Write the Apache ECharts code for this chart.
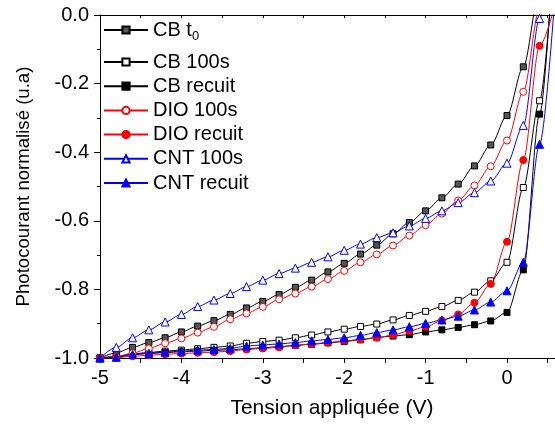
<!DOCTYPE html>
<html>
<head>
<meta charset="utf-8">
<script src="https://cdn.jsdelivr.net/npm/echarts@6/dist/echarts.min.js"></script>
<style>
html,body{margin:0;padding:0;background:#fff;}
#chart{width:555px;height:425px;}
</style>
</head>
<body>
<div id="chart"></div>
<script>
// Applied voltage (V)
const voltage = [-5.0,-4.8,-4.6,-4.4,-4.2,-4.0,-3.8,-3.6,-3.4,-3.2,-3.0,-2.8,-2.6,-2.4,-2.2,-2.0,-1.8,-1.6,-1.4,-1.2,-1.0,-0.8,-0.6,-0.4,-0.2,0.0,0.2,0.4,0.6];
// Normalised photocurrent
const cbT0   = [-1.000,-0.985,-0.969,-0.955,-0.941,-0.924,-0.907,-0.891,-0.873,-0.854,-0.835,-0.815,-0.794,-0.773,-0.749,-0.724,-0.697,-0.671,-0.638,-0.605,-0.571,-0.533,-0.493,-0.440,-0.379,-0.293,-0.151,0.07,0.30];
const cb100  = [-1.000,-0.995,-0.988,-0.984,-0.980,-0.977,-0.973,-0.969,-0.965,-0.957,-0.952,-0.948,-0.941,-0.933,-0.924,-0.916,-0.908,-0.901,-0.889,-0.876,-0.864,-0.850,-0.832,-0.808,-0.775,-0.721,-0.503,-0.25,0.25];
const cbRec  = [-1.000,-0.998,-0.990,-0.987,-0.984,-0.982,-0.980,-0.978,-0.976,-0.973,-0.970,-0.967,-0.963,-0.960,-0.956,-0.952,-0.947,-0.940,-0.936,-0.932,-0.924,-0.918,-0.911,-0.903,-0.892,-0.867,-0.743,-0.289,0.29];
const dio100 = [-1.000,-0.997,-0.986,-0.972,-0.957,-0.943,-0.926,-0.909,-0.887,-0.870,-0.851,-0.829,-0.812,-0.792,-0.770,-0.746,-0.721,-0.698,-0.672,-0.643,-0.613,-0.579,-0.541,-0.497,-0.441,-0.366,-0.224,0.02,0.28];
const dioRec = [-1.000,-0.999,-0.995,-0.992,-0.989,-0.987,-0.985,-0.983,-0.980,-0.975,-0.972,-0.969,-0.963,-0.959,-0.955,-0.950,-0.946,-0.941,-0.933,-0.921,-0.909,-0.891,-0.873,-0.839,-0.784,-0.661,-0.423,-0.090,0.04];
const cnt100 = [-1.000,-0.969,-0.941,-0.918,-0.895,-0.873,-0.850,-0.831,-0.812,-0.792,-0.773,-0.754,-0.738,-0.721,-0.705,-0.686,-0.668,-0.649,-0.635,-0.615,-0.593,-0.571,-0.547,-0.518,-0.484,-0.432,-0.322,-0.010,0.30];
const cntRec = [-1.000,-0.998,-0.990,-0.986,-0.983,-0.980,-0.977,-0.975,-0.972,-0.965,-0.962,-0.959,-0.955,-0.950,-0.946,-0.941,-0.934,-0.926,-0.918,-0.909,-0.899,-0.889,-0.878,-0.860,-0.837,-0.804,-0.721,-0.377,0.09];

const seriesNames = ['CB t0','CB 100s','CB recuit','DIO 100s','DIO recuit','CNT 100s','CNT recuit'];
const xTitle = 'Tension appliquée (V)';
const yTitle = 'Photocourant normalisé (u.a)';

const FONT = '"Liberation Sans", Arial, sans-serif';
const pair = arr => voltage.map((v, i) => [v, arr[i]]);

function mk(name, data, color, symbol, fill, size) {
  return {
    name: name, type: 'line', data: pair(data),
    smooth: 0.3, smoothMonotone: 'x', clip: true,
    symbol: symbol, symbolSize: size,
    lineStyle: {color: color, width: 1},
    itemStyle: {color: fill, borderColor: color, borderWidth: 1},
    emphasis: {disabled: true},
    z: 3
  };
}

const chart = echarts.init(document.getElementById('chart'), null, {renderer: 'canvas'});
chart.setOption({
  animation: false,
  backgroundColor: '#fff',
  textStyle: {fontFamily: FONT},
  grid: {left: 100, top: 15, width: 464, height: 343, containLabel: false, outerBoundsMode: 'none'},
  legend: [
    {
      data: [seriesNames[0]],
      orient: 'vertical', left: 103, top: 20, padding: 0,
      itemWidth: 44, itemHeight: 9, itemGap: 4,
      formatter: () => 'CB t{sub|0}',
      textStyle: {fontFamily: FONT, fontSize: 20, color: '#000', lineHeight: 20,
        rich: {sub: {fontFamily: FONT, fontSize: 13, color: '#000', padding: [12, 0, 0, 0]}}},
      selectedMode: false
    },
    {
      data: seriesNames.slice(1),
      orient: 'vertical', left: 103, top: 52, padding: 0,
      itemWidth: 44, itemHeight: 9, itemGap: 4.2,
      textStyle: {fontFamily: FONT, fontSize: 20, color: '#000', lineHeight: 20},
      selectedMode: false
    }
  ],
  xAxis: [
    {
      type: 'value', min: -5, max: 0.7, interval: 0.5, position: 'bottom',
      name: xTitle, nameLocation: 'middle', nameGap: 40,
      nameTextStyle: {fontFamily: FONT, fontSize: 21, color: '#000'},
      axisLine: {show: true, onZero: false, lineStyle: {color: '#000', width: 1}},
      axisTick: {show: true, inside: false, length: 5, lineStyle: {color: '#000'}},
      axisLabel: {fontFamily: FONT, fontSize: 20, color: '#000', margin: 10,
        formatter: v => (Math.abs(v - Math.round(v)) < 1e-9 && v <= 0.5) ? String(Math.round(v)) : ''},
      splitLine: {show: false}
    },
    {
      type: 'value', min: -5, max: 0.7, interval: 0.5, position: 'top',
      axisLine: {show: true, onZero: false, lineStyle: {color: '#000', width: 1}},
      axisTick: {show: true, inside: true, length: 3, lineStyle: {color: '#000'}},
      axisLabel: {show: false},
      splitLine: {show: false}
    }
  ],
  yAxis: {
    type: 'value', min: -1, max: 0, interval: 0.2, position: 'left',
    name: yTitle, nameLocation: 'middle', nameGap: 67, nameRotate: 90,
    nameTextStyle: {fontFamily: FONT, fontSize: 18.6, color: '#000'},
    axisLine: {show: true, onZero: false, lineStyle: {color: '#000', width: 1}},
    axisTick: {show: true, inside: false, length: 6, lineStyle: {color: '#000'}},
    minorTick: {show: true, splitNumber: 2, length: 3, lineStyle: {color: '#000'}},
    axisLabel: {fontFamily: FONT, fontSize: 20, color: '#000', margin: 11,
      formatter: v => v.toFixed(1)},
    splitLine: {show: false}
  },
  series: [
    mk(seriesNames[0], cbT0, '#000000', 'rect', '#555555', 6),
    mk(seriesNames[1], cb100, '#000000', 'rect', '#ffffff', 6),
    mk(seriesNames[2], cbRec, '#000000', 'rect', '#000000', 6),
    mk(seriesNames[3], dio100, '#ff0000', 'circle', '#ffffff', 7),
    mk(seriesNames[4], dioRec, '#ff0000', 'circle', '#ff0000', 7),
    mk(seriesNames[5], cnt100, '#0000ff', 'triangle', '#ffffff', 8),
    mk(seriesNames[6], cntRec, '#0000ff', 'triangle', '#0000ff', 8)
  ]
});
</script>
</body>
</html>
